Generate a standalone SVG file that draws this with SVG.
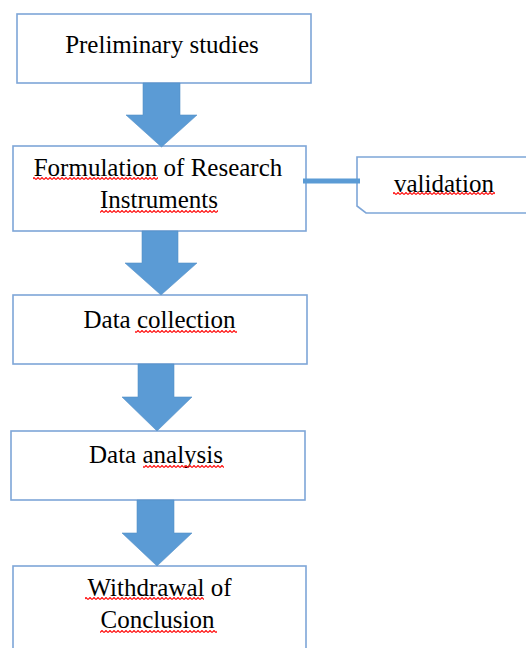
<svg xmlns="http://www.w3.org/2000/svg" width="526" height="648" viewBox="0 0 526 648">
<style>
.box{fill:#ffffff;stroke:#7EA6D8;stroke-width:1.6}
.lbl{font-size:25px;fill:#000000;text-anchor:middle}
.arrow{fill:#5B9BD5;stroke:#5590C8;stroke-width:0.6}
.wave{fill:url(#wave)}
</style>
<defs>
<pattern id="wave" width="4" height="3" patternUnits="userSpaceOnUse">
<path d="M0,2.5 L2,0.5 L4,2.5" fill="none" stroke="#FF1010" stroke-width="1.2"/>
</pattern>
</defs>
<rect width="526" height="648" fill="#ffffff"/>

<g id="n1" font-family="Liberation Serif, DejaVu Serif, serif">
<rect class="box" x="17" y="14" width="294" height="69"/>
<text class="lbl" x="162" y="53">Preliminary studies</text>
</g>

<g id="n2" font-family="Liberation Serif, DejaVu Serif, serif">
<rect class="box" x="13" y="146" width="293" height="85"/>
<text class="lbl" x="158" y="176">Formulation of Research</text>
<text class="lbl" x="159" y="208">Instruments</text>
<rect class="wave" x="33" y="177" width="125" height="3"/>
<rect class="wave" x="100" y="210" width="118" height="3"/>
</g>

<g id="n_validation" font-family="Liberation Serif, DejaVu Serif, serif">
<path class="box" d="M530,157 L357,157 L357,206 L366,213 L530,213"/>
<text class="lbl" x="444" y="192">validation</text>
<rect class="wave" x="393" y="192" width="102" height="3"/>
</g>

<g id="n3" font-family="Liberation Serif, DejaVu Serif, serif">
<rect class="box" x="13" y="295" width="294" height="69"/>
<text class="lbl" x="159.5" y="328">Data collection</text>
<rect class="wave" x="135" y="330" width="102" height="3"/>
</g>

<g id="n4" font-family="Liberation Serif, DejaVu Serif, serif">
<rect class="box" x="11" y="431" width="294" height="69"/>
<text class="lbl" x="156" y="463">Data analysis</text>
<rect class="wave" x="143" y="465" width="81" height="3"/>
</g>

<g id="n5" font-family="Liberation Serif, DejaVu Serif, serif">
<rect class="box" x="13" y="566" width="293" height="100"/>
<text class="lbl" x="159.5" y="596">Withdrawal of</text>
<text class="lbl" x="157.5" y="628">Conclusion</text>
<rect class="wave" x="85" y="597" width="119" height="3"/>
<rect class="wave" x="100" y="630" width="117" height="3"/>
</g>

<g id="connectors">
<polygon class="arrow" points="143,83 180,83 180,115 197,115 161.5,147 126,115 143,115"/>
<polygon class="arrow" points="142,231 178,231 178,263 197,263 161,295 125,263 142,263"/>
<polygon class="arrow" points="138,364 174,364 174,397 192,397 157,431 122,397 138,397"/>
<polygon class="arrow" points="137,500 174,500 174,533 192,533 157,566 122,533 137,533"/>
<line x1="303" y1="181" x2="360" y2="181" stroke="#5B9BD5" stroke-width="5"/>
</g>
</svg>
